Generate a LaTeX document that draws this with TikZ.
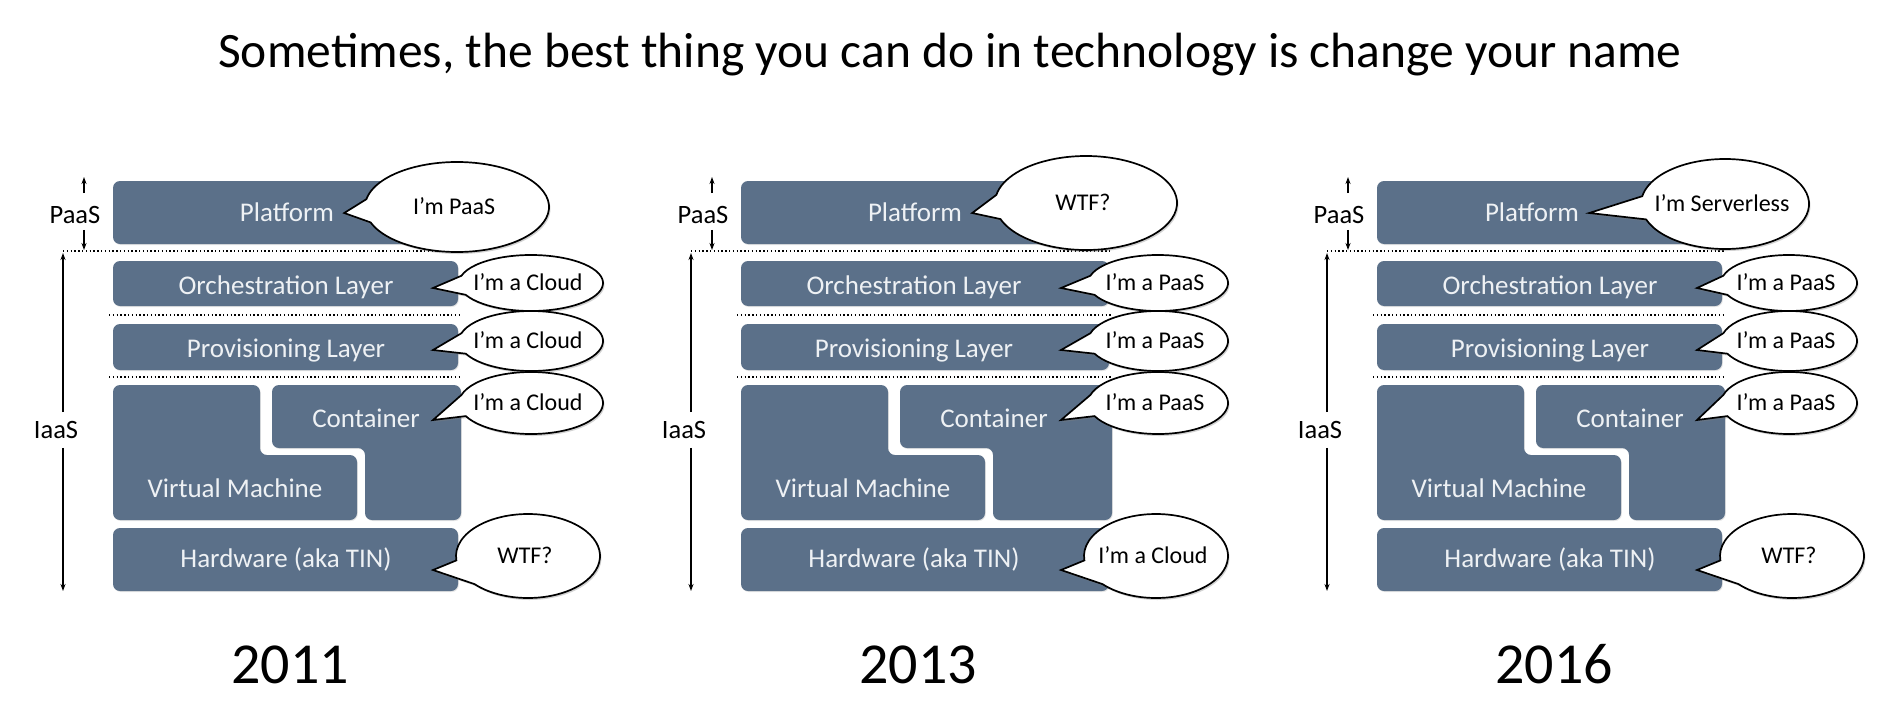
\documentclass[tikz,border=0pt]{standalone}
\usepackage{fontspec}
\setmainfont{Carlito}
\usetikzlibrary{arrows.meta,shadows,calc}

\definecolor{slate}{HTML}{5B7089}
\definecolor{boxtext}{HTML}{EEF1F4}

\tikzset{
  layer/.style={fill=slate, rounded corners=7pt,
    drop shadow={opacity=0.2, shadow xshift=0.8pt, shadow yshift=-1pt}},
  lbl/.style={text=boxtext, font=\fontsize{27}{30}\selectfont,
    inner sep=0pt, text height=17.6pt, text depth=0pt},
  sidelbl/.style={text=black, font=\fontsize{26.5}{30}\selectfont,
    inner sep=0pt, text height=17.3pt, text depth=0pt},
  sep/.style={draw=black, line width=1.3pt, dash pattern=on 1.3pt off 2.5pt},
  arr/.style={draw=black, line width=1.3pt, -{Stealth[length=7pt,width=5pt]}},
  balloon/.style={draw=black, line width=1.7pt, fill=white,
    drop shadow={opacity=0.35, shadow xshift=1.5pt, shadow yshift=-2pt}},
  say/.style={text=black, font=\fontsize{24}{28}\selectfont,
    inner sep=0pt, text height=15.6pt, text depth=0pt},
  yearlbl/.style={font=\fontsize{58}{64}\selectfont, inner sep=0pt,
    text height=37.5pt, text depth=0pt},
  titlelbl/.style={font=\fontsize{49.5}{56}\selectfont, inner sep=0pt,
    text height=32pt, text depth=0pt}
}

% speech balloon: #1 name, #2 centre, #3 x radius, #4 y radius,
% #5 tail tip, #6 text, #7/#8 angles where the tail leaves the ellipse
\newcommand\speech[8]{%
  \coordinate (#1) at #2;
  \draw[balloon] ($(#1)+(#8:#3pt and #4pt)$)
    arc[start angle=#8, end angle=#7+360, x radius=#3pt, y radius=#4pt]
    -- #5 -- cycle;
  \node[say] (#1-text) at ([xshift=-3pt]#1) {#6};
}

\begin{document}
\begin{tikzpicture}[x=1pt,y=-1pt]
\useasboundingbox[fill=white] (0,0) rectangle (1902,712);

\node[titlelbl] (title) at (950,51)
  {Sometimes, the best thing you can do in technology is change your name};

\foreach \pn/\lx/\rr/\yr/\sayA/\sayB/\sayC/\ax/\arx/\ary/\ay/\px/\bx/\brx in {
  a/113/345/2011/I’m PaaS/I’m a Cloud/WTF?/344/92/45/207/174/418/72,
  b/741/368/2013/WTF?/I’m a PaaS/I’m a Cloud/345/91/47/203/174/417/70,
  c/1377/345/2016/I’m Serverless/I’m a PaaS/WTF?/348/84/45/204/155/412/68}
{
\begin{scope}[xshift=\lx pt]
  % stack of layers
  \path[layer] (0,181) rectangle (\rr,244);
  \path[layer] (0,261) rectangle (\rr,306);
  \path[layer] (0,324) rectangle (\rr,370);
  \path[layer] (0,385) -- (147,385) -- (147,455) -- (244,455)
    -- (244,520) -- (0,520) -- cycle;
  \path[layer] (159,385) -- (\rr+3,385) -- (\rr+3,520) -- (252,520)
    -- (252,448) -- (159,448) -- cycle;
  \path[layer] (0,528) rectangle (\rr,591);

  % separators
  \draw[sep] (-50,251) -- (\rr+2,251);
  \draw[sep] (-4,315) -- (\rr+2,315);
  \draw[sep] (-4,377) -- (\rr+2,377);

  % layer names
  \node[lbl] (\pn-plat) at (\px,213) {Platform};
  \node[lbl] (\pn-orch) at (173,286) {Orchestration Layer};
  \node[lbl] (\pn-prov) at (173,349) {Provisioning Layer};
  \node[lbl] (\pn-cont) at (253,419) {Container};
  \node[lbl] (\pn-vm) at (122,489) {Virtual Machine};
  \node[lbl] (\pn-hw) at (173,559) {Hardware (aka TIN)};

  % PaaS / IaaS extents
  \node[sidelbl] (\pn-paas) at (-38,215) {PaaS};
  \coordinate (\pn-pt) at (-29,177);
  \coordinate (\pn-pb) at (-29,250);
  \draw[arr, shorten <=13pt] (\pn-paas.north -| \pn-pt) -- (\pn-pt);
  \draw[arr, shorten <=6pt] (\pn-paas.south -| \pn-pb) -- (\pn-pb);

  \node[sidelbl] (\pn-iaas) at (-57,430) {IaaS};
  \coordinate (\pn-it) at (-50,253);
  \coordinate (\pn-ib) at (-50,591);
  \draw[arr, shorten <=9pt] (\pn-iaas.north -| \pn-it) -- (\pn-it);
  \draw[arr, shorten <=9pt] (\pn-iaas.south -| \pn-ib) -- (\pn-ib);

  % tail tips
  \coordinate (\pn-tb) at (320,288);
  \coordinate (\pn-tc) at (320,350);
  \coordinate (\pn-td) at (320,420);
  \coordinate (\pn-te) at (320,570);

  % balloons
  \speech{\pn-sa}{(\ax,\ay)}{\arx}{\ary}{([xshift=10pt]\pn-plat.east)}{\sayA}{170}{200}
  \speech{\pn-sb}{(\bx,283)}{\brx}{28}{(\pn-tb)}{\sayB}{165}{205}
  \speech{\pn-sc}{(\bx,341)}{\brx}{30}{(\pn-tc)}{\sayB}{165}{205}
  \speech{\pn-sd}{(\bx,403)}{\brx}{31}{(\pn-td)}{\sayB}{165}{205}
  \speech{\pn-se}{(415,556)}{72}{42}{(\pn-te)}{\sayC}{186}{222}

  % year
  \node[yearlbl] (\pn-year) at (177,665) {\yr};
\end{scope}
}
\end{tikzpicture}
\end{document}
